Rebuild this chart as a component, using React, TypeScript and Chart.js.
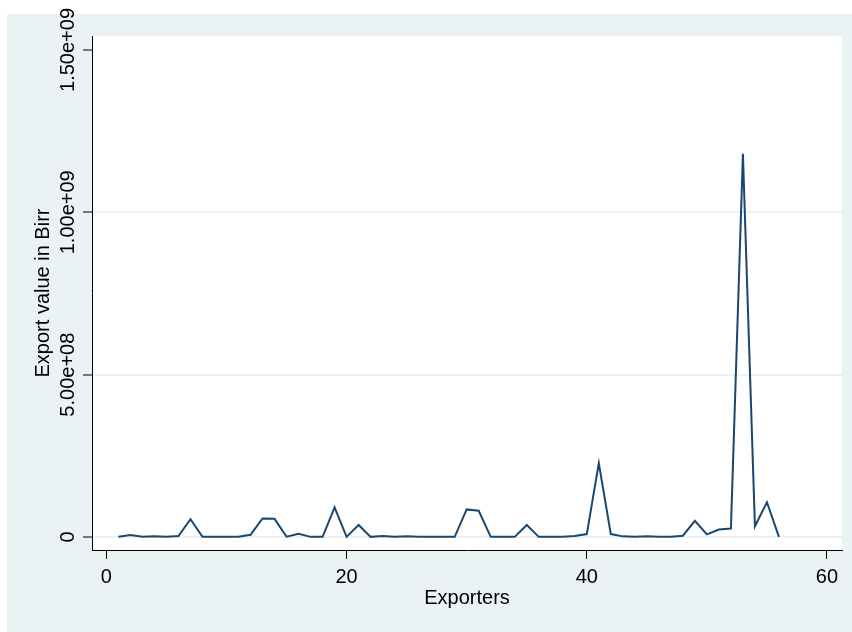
import React, { useEffect, useRef } from "react";
import { Chart, registerables } from "chart.js";

Chart.register(...registerables);

// Data
const exporters = [
  1, 2, 3, 4, 5, 6, 7, 8, 9, 10, 11, 12, 13, 14, 15, 16, 17, 18, 19, 20,
  21, 22, 23, 24, 25, 26, 27, 28, 29, 30, 31, 32, 33, 34, 35, 36, 37, 38, 39, 40,
  41, 42, 43, 44, 45, 46, 47, 48, 49, 50, 51, 52, 53, 54, 55, 56,
];
const exportValues = [
  5e5, 6e6, 5e5, 2e6, 5e5, 3e6, 5.5e7, 5e5, 5e5, 1e6,
  5e5, 7e6, 5.7e7, 5.6e7, 1e6, 1e7, 5e5, 5e5, 9.1e7, 5e5,
  3.7e7, 5e5, 3e6, 5e5, 2e6, 5e5, 5e5, 5e5, 5e5, 8.5e7,
  8.1e7, 5e5, 1e6, 5e5, 3.7e7, 5e5, 5e5, 1e6, 3e6, 9e6,
  2.27e8, 9e6, 2e6, 5e5, 2e6, 5e5, 1e6, 4e6, 5.0e7, 8e6,
  2.3e7, 2.6e7, 1.18e9, 3.3e7, 1.07e8, 5e5,
];
const xTicks = [0, 20, 40, 60];
const xTickLabels = ["0", "20", "40", "60"];
const yTicks = [0, 5e8, 1e9, 1.5e9];
const yTickLabels = ["0", "5.00e+08", "1.00e+09", "1.50e+09"];

const FONT = "'Liberation Sans', Arial, Helvetica, sans-serif";
const OUTER_BG = "#eaf2f3";
const LINE_COLOR = "#1a476f";

const bgPlugin = {
  id: "stataBg",
  beforeDraw(chart: any) {
    const { ctx, chartArea } = chart;
    ctx.save();
    ctx.fillStyle = OUTER_BG;
    ctx.fillRect(7, 14, chart.width - 7, chart.height - 14);
    ctx.fillStyle = "#ffffff";
    ctx.fillRect(
      chartArea.left,
      chartArea.top,
      chartArea.right - chartArea.left,
      chartArea.bottom - chartArea.top
    );
    ctx.restore();
  },
};

export default function App() {
  const ref = useRef<HTMLCanvasElement | null>(null);

  useEffect(() => {
    if (!ref.current) return;
    const points = exporters.map((x, i) => ({ x, y: exportValues[i] }));
    const chart = new Chart(ref.current, {
      type: "line",
      data: {
        datasets: [
          {
            data: points,
            borderColor: LINE_COLOR,
            borderWidth: 2,
            pointRadius: 0,
            tension: 0,
            fill: false,
          },
        ],
      },
      options: {
        animation: false,
        responsive: false,
        devicePixelRatio: 1,
        layout: { padding: { top: 36, right: 10, left: 0, bottom: 0 } },
        plugins: {
          legend: { display: false },
          tooltip: { enabled: false },
        },
        scales: {
          x: {
            type: "linear",
            min: -1.2,
            max: 61.25,
            afterBuildTicks: (scale: any) => {
              scale.ticks = xTicks.map((v) => ({ value: v }));
            },
            afterFit: (scale: any) => {
              scale.height = 82;
            },
            ticks: {
              autoSkip: false,
              maxRotation: 0,
              minRotation: 0,
              padding: 6,
              color: "#000",
              font: { family: FONT, size: 20 },
              callback: (v: any) => {
                const i = xTicks.indexOf(Number(v));
                return i >= 0 ? xTickLabels[i] : "";
              },
            },
            grid: {
              drawOnChartArea: false,
              drawTicks: true,
              tickLength: 9,
              tickColor: "#000",
              tickWidth: 1,
            },
            border: { display: true, color: "#000", width: 1 },
            title: {
              display: true,
              text: "Exporters",
              color: "#000",
              font: { family: FONT, size: 20 },
              padding: { top: 0, bottom: 22 },
            },
          },
          y: {
            type: "linear",
            min: -4.0e7,
            max: 1.543e9,
            afterBuildTicks: (scale: any) => {
              scale.ticks = yTicks.map((v) => ({ value: v }));
            },
            afterFit: (scale: any) => {
              scale.width = 92;
            },
            ticks: {
              autoSkip: false,
              minRotation: 90,
              maxRotation: 90,
              crossAlign: "center",
              padding: -27,
              color: "#000",
              font: { family: FONT, size: 20 },
              callback: (v: any) => {
                const i = yTicks.indexOf(Number(v));
                return i >= 0 ? yTickLabels[i] : "";
              },
            },
            grid: {
              drawOnChartArea: true,
              drawTicks: true,
              tickLength: 9,
              tickColor: "#000",
              tickWidth: 1,
              lineWidth: 2,
              color: (c: any) =>
                c.tick && c.tick.value === 1.5e9 ? "rgba(0,0,0,0)" : OUTER_BG,
            },
            border: { display: true, color: "#000", width: 1 },
            title: {
              display: true,
              text: "Export value in Birr",
              color: "#000",
              font: { family: FONT, size: 20 },
              padding: { top: 31, bottom: 0 },
            },
          },
        },
      },
      plugins: [bgPlugin],
    } as any);
    return () => chart.destroy();
  }, []);

  return (
    <div style={{ position: "absolute", left: 0, top: 0, width: 852, height: 632 }}>
      <canvas ref={ref} width={852} height={632} style={{ width: 852, height: 632, display: "block" }} />
    </div>
  );
}
